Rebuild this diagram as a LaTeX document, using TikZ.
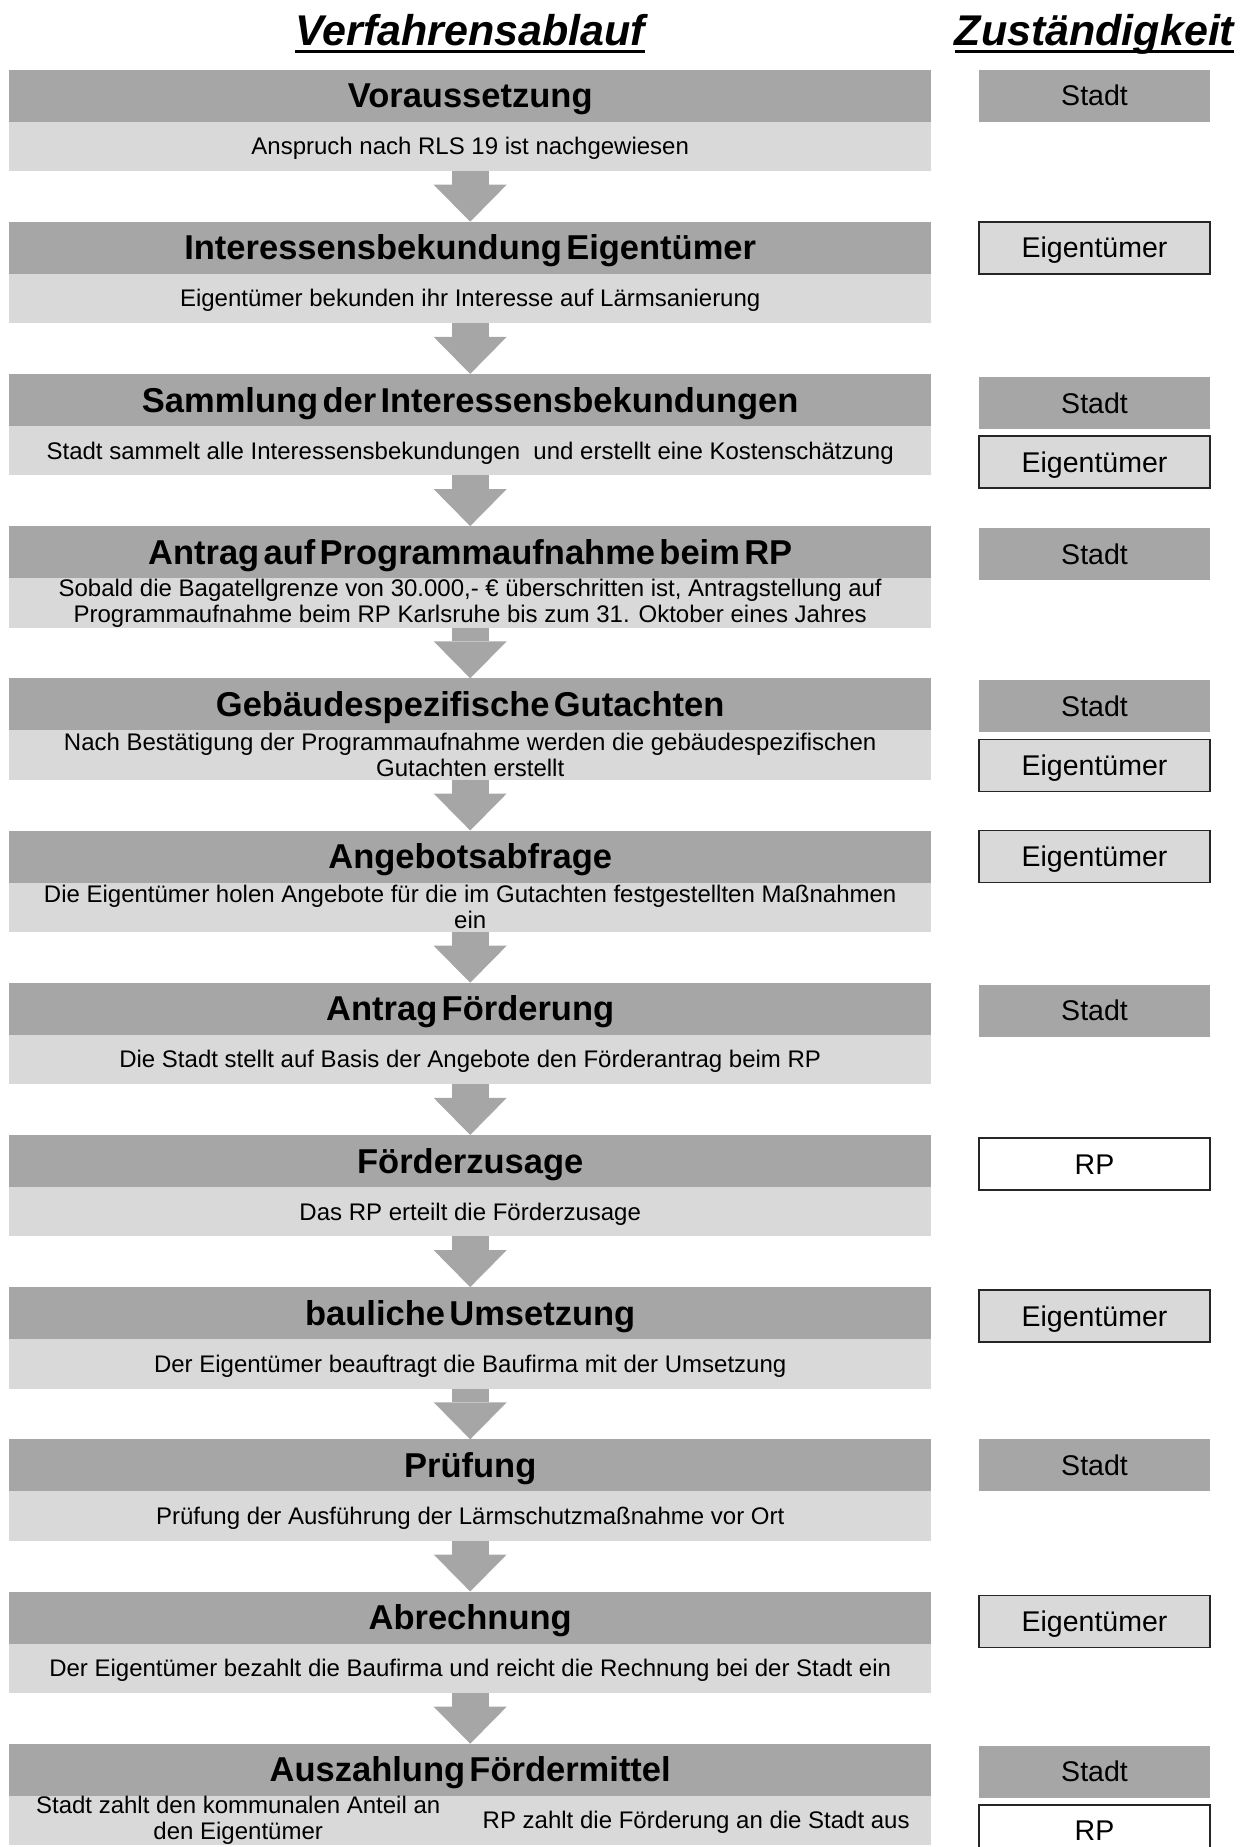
\documentclass[tikz,border=0pt]{standalone}
\usepackage{fontspec}
\setmainfont{Liberation Sans}
\newfontfamily\headfont[WordSpace=0.45]{Liberation Sans}
\usepackage{xcolor}
\usepackage{tikz}
\usetikzlibrary{arrows.meta,positioning}

\definecolor{headgray}{HTML}{A6A6A6}
\definecolor{infogray}{HTML}{D9D9D9}
\definecolor{boxline}{HTML}{262626}

\begin{document}
\begin{tikzpicture}[
  x=1pt,y=1pt,
  title/.style={inner sep=0pt,font=\fontsize{43}{48}\selectfont\bfseries\itshape},
  uline/.style={line width=3pt},
  stage/.style={fill=headgray,minimum width=921.6pt,minimum height=52pt,
    inner sep=0pt,outer sep=0pt,text height=24.5pt,text depth=0pt,
    font=\headfont\fontsize{34.5}{38}\selectfont\bfseries},
  info/.style={fill=infogray,minimum width=921.6pt,minimum height=49.5pt,
    inner sep=0pt,outer sep=0pt,align=center,font=\fontsize{24}{26}\selectfont},
  oneline/.style={text height=17pt,text depth=0pt},
  who/.style={minimum width=231pt,minimum height=52pt,inner sep=0pt,outer sep=0pt,
    text height=20.5pt,text depth=0pt,font=\fontsize{28.5}{32}\selectfont},
  stadt/.style={who,fill=headgray},
  eigen/.style={who,fill=infogray,draw=boxline,line width=1.6pt},
  rpbox/.style={who,fill=white,draw=boxline,line width=1.6pt},
  flow/.style={draw=headgray,line width=37pt,
    -{Triangle[length=37pt,width=73pt,line width=0pt]}}
]
  \useasboundingbox (0,0) rectangle (1249,-1847);

  \node[title,anchor=base] (ablauf) at (470.2,-45.5) {Verfahrensablauf};
  \node[title,anchor=base] (zustaendig) at (1094.5,-45.5) {Zuständigkeit};
  \draw[uline] ([yshift=-6pt]ablauf.base west) -- ([yshift=-6pt]ablauf.base east);
  \draw[uline] ([yshift=-6pt]zustaendig.base west) -- ([yshift=-6pt]zustaendig.base east);

  \node[stage,anchor=north] (voraus) at (470.2,-69.5) {Voraussetzung};
  \node[info,oneline,below=0pt of voraus] (vorausinfo)
    {Anspruch nach RLS 19 ist nachgewiesen};
  \node[stage,below=50.7pt of vorausinfo] (interesse) {Interessensbekundung Eigentümer};
  \node[info,oneline,below=0pt of interesse] (interesseinfo)
    {Eigentümer bekunden ihr Interesse auf Lärmsanierung};
  \node[stage,below=50.7pt of interesseinfo] (sammlung) {Sammlung der Interessensbekundungen};
  \node[info,oneline,below=0pt of sammlung] (sammlunginfo)
    {Stadt sammelt alle Interessensbekundungen\ \ und erstellt eine Kostenschätzung};
  \node[stage,below=50.7pt of sammlunginfo] (antrag) {Antrag auf Programmaufnahme beim RP};
  \node[info,below=0pt of antrag] (antraginfo)
    {Sobald die Bagatellgrenze von 30.000,- € überschritten ist, Antragstellung auf\\
     Programmaufnahme beim RP Karlsruhe bis zum 31. Oktober eines Jahres};
  \node[stage,below=50.7pt of antraginfo] (gutachten) {Gebäudespezifische Gutachten};
  \node[info,below=0pt of gutachten] (gutachteninfo)
    {Nach Bestätigung der Programmaufnahme werden die gebäudespezifischen\\
     Gutachten erstellt};
  \node[stage,below=50.7pt of gutachteninfo] (angebot) {Angebotsabfrage};
  \node[info,below=0pt of angebot] (angebotinfo)
    {Die Eigentümer holen Angebote für die im Gutachten festgestellten Maßnahmen\\ein};
  \node[stage,below=50.7pt of angebotinfo] (foerderung) {Antrag Förderung};
  \node[info,oneline,below=0pt of foerderung] (foerderunginfo)
    {Die Stadt stellt auf Basis der Angebote den Förderantrag beim RP};
  \node[stage,below=50.7pt of foerderunginfo] (zusage) {Förderzusage};
  \node[info,oneline,below=0pt of zusage] (zusageinfo)
    {Das RP erteilt die Förderzusage};
  \node[stage,below=50.7pt of zusageinfo] (umsetzung) {bauliche Umsetzung};
  \node[info,oneline,below=0pt of umsetzung] (umsetzunginfo)
    {Der Eigentümer beauftragt die Baufirma mit der Umsetzung};
  \node[stage,below=50.7pt of umsetzunginfo] (pruefung) {Prüfung};
  \node[info,oneline,below=0pt of pruefung] (pruefunginfo)
    {Prüfung der Ausführung der Lärmschutzmaßnahme vor Ort};
  \node[stage,below=50.7pt of pruefunginfo] (abrechnung) {Abrechnung};
  \node[info,oneline,below=0pt of abrechnung] (abrechnunginfo)
    {Der Eigentümer bezahlt die Baufirma und reicht die Rechnung bei der Stadt ein};
  \node[stage,below=50.7pt of abrechnunginfo] (auszahlung) {Auszahlung Fördermittel};
  \node[info,below=0pt of auszahlung] (auszahlunginfo) {};
  \node[info,fill=none,minimum width=0pt,minimum height=0pt] (anteil)
    at ([xshift=-232pt]auszahlunginfo.center)
    {Stadt zahlt den kommunalen Anteil an\\den Eigentümer};
  \node[info,oneline,fill=none,minimum width=0pt,minimum height=0pt] (rpzahlt)
    at ([xshift=226pt]auszahlunginfo.center)
    {RP zahlt die Förderung an die Stadt aus};

  \draw[flow] (vorausinfo) -- (interesse);
  \draw[flow] (interesseinfo) -- (sammlung);
  \draw[flow] (sammlunginfo) -- (antrag);
  \draw[flow] (antraginfo) -- (gutachten);
  \draw[flow] (gutachteninfo) -- (angebot);
  \draw[flow] (angebotinfo) -- (foerderung);
  \draw[flow] (foerderunginfo) -- (zusage);
  \draw[flow] (zusageinfo) -- (umsetzung);
  \draw[flow] (umsetzunginfo) -- (pruefung);
  \draw[flow] (pruefunginfo) -- (abrechnung);
  \draw[flow] (abrechnunginfo) -- (auszahlung);

  \node[stadt,right=48pt of voraus] (zust1) {Stadt};
  \node[eigen,right=48pt of interesse] (zust2) {Eigentümer};
  \node[stadt,right=48pt of sammlung,yshift=-3pt] (zust3a) {Stadt};
  \node[eigen,below=7pt of zust3a] (zust3b) {Eigentümer};
  \node[stadt,right=48pt of antrag,yshift=-2pt] (zust4) {Stadt};
  \node[stadt,right=48pt of gutachten,yshift=-2pt] (zust5a) {Stadt};
  \node[eigen,below=7pt of zust5a] (zust5b) {Eigentümer};
  \node[eigen,right=48pt of angebot] (zust6) {Eigentümer};
  \node[stadt,right=48pt of foerderung,yshift=-2pt] (zust7) {Stadt};
  \node[rpbox,right=48pt of zusage,yshift=-3pt] (zust8) {RP};
  \node[eigen,right=48pt of umsetzung,yshift=-3pt] (zust9) {Eigentümer};
  \node[stadt,right=48pt of pruefung] (zust10) {Stadt};
  \node[eigen,right=48pt of abrechnung,yshift=-4pt] (zust11) {Eigentümer};
  \node[stadt,right=48pt of auszahlung,yshift=-2pt] (zust12a) {Stadt};
  \node[rpbox,below=7pt of zust12a] (zust12b) {RP};
\end{tikzpicture}
\end{document}
